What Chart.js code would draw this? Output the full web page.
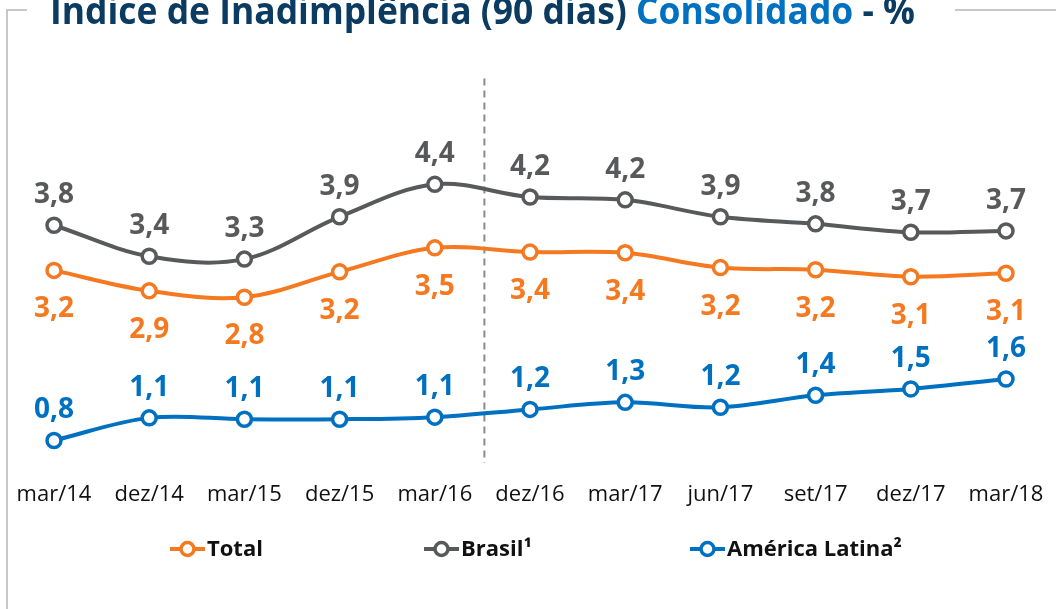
<!DOCTYPE html>
<html lang="pt-BR">
<head>
<meta charset="utf-8">
<title>Índice de Inadimplência (90 dias) Consolidado</title>
<script src="https://cdn.jsdelivr.net/npm/chart.js@4.4.1/dist/chart.umd.min.js"></script>
<style>
    html, body { margin: 0; padding: 0; background: #ffffff; }
    #grafico { display: block; }
</style>
</head>
<body>
<canvas id="grafico" width="1056" height="609"></canvas>
<script>
const categorias = ["mar/14", "dez/14", "mar/15", "dez/15", "mar/16", "dez/16", "mar/17", "jun/17", "set/17", "dez/17", "mar/18"];
const total = [3.18, 2.89, 2.80, 3.16, 3.50, 3.44, 3.43, 3.22, 3.19, 3.09, 3.14];
const brasil = [3.82, 3.38, 3.34, 3.94, 4.40, 4.22, 4.18, 3.94, 3.84, 3.72, 3.74];
const americaLatina = [0.77, 1.09, 1.07, 1.07, 1.10, 1.21, 1.31, 1.24, 1.41, 1.50, 1.64];
const nomesSeries = ["Total", "Brasil¹", "América Latina²"];

const LARANJA = "#f47920", CINZA = "#58595b", AZUL = "#0070c0", MARINHO = "#0b3b60";
const FONTE = "'Open Sans', 'Noto Sans', sans-serif";

function formatar(v) {
    return v.toFixed(1).replace(".", ",");
}

function serie(label, data, cor, posicao) {
    return {
        label: label,
        data: data,
        borderColor: cor,
        backgroundColor: "#ffffff",
        borderWidth: 4,
        pointRadius: 7,
        pointHoverRadius: 7,
        pointBorderWidth: 3.5,
        pointBackgroundColor: "#ffffff",
        pointBorderColor: cor,
        tension: 0.35,
        clip: false,
        posicaoRotulo: posicao
    };
}

// moldura, titulo, linha tracejada, rotulos e legenda
const decoracao = {
    id: "decoracao",
    beforeDraw(chart) {
        const ctx = chart.ctx;
        ctx.save();
        ctx.strokeStyle = "#c8c8c8";
        ctx.lineWidth = 2;
        ctx.beginPath();
        ctx.moveTo(7, 609);
        ctx.lineTo(7, 10);
        ctx.lineTo(27, 10);
        ctx.moveTo(955, 10);
        ctx.lineTo(1056, 10);
        ctx.stroke();

        // titulo (cortado no topo como na imagem)
        const partes = [
            ["Índice de Inadimplência (90 dias) ", MARINHO],
            ["Consolidado", AZUL],
            [" - %", MARINHO]
        ];
        ctx.font = "bold 38px " + FONTE;
        let largura = 0;
        partes.forEach(p => largura += ctx.measureText(p[0]).width);
        const escala = 865 / largura;
        ctx.translate(50, 24);
        ctx.scale(escala, 1);
        ctx.textBaseline = "alphabetic";
        let x = 0;
        partes.forEach(p => {
            ctx.fillStyle = p[1];
            ctx.fillText(p[0], x, 0);
            x += ctx.measureText(p[0]).width;
        });
        ctx.restore();

        // separador tracejado entre mar/16 e dez/16
        const xs = chart.scales.x, ys = chart.scales.y;
        const xm = (xs.getPixelForValue(4) + xs.getPixelForValue(5)) / 2 + 2;
        ctx.save();
        ctx.strokeStyle = "#8c8c8c";
        ctx.lineWidth = 2;
        ctx.setLineDash([7, 5]);
        ctx.beginPath();
        ctx.moveTo(xm, ys.getPixelForValue(5.9));
        ctx.lineTo(xm, ys.getPixelForValue(0.45));
        ctx.stroke();
        ctx.restore();
    },
    afterDatasetsDraw(chart) {
        const ctx = chart.ctx;
        ctx.save();
        ctx.font = "bold 28px " + FONTE;
        ctx.textAlign = "center";
        ctx.textBaseline = "alphabetic";
        chart.data.datasets.forEach((ds, i) => {
            const meta = chart.getDatasetMeta(i);
            ctx.fillStyle = ds.borderColor;
            meta.data.forEach((pt, j) => {
                const dy = ds.posicaoRotulo === "abaixo" ? 47 : -22;
                ctx.fillText(formatar(ds.data[j]), pt.x, pt.y + dy);
            });
        });
        ctx.restore();

        // legenda
        const ordem = [0, 1, 2];
        const inicio = [170, 424, 690];
        ctx.save();
        ctx.font = "bold 22px " + FONTE;
        ctx.textBaseline = "middle";
        ordem.forEach((i, k) => {
            const ds = chart.data.datasets[i];
            const x0 = inicio[k], y0 = 549;
            ctx.strokeStyle = ds.borderColor;
            ctx.lineWidth = 4;
            ctx.beginPath();
            ctx.moveTo(x0, y0);
            ctx.lineTo(x0 + 35, y0);
            ctx.stroke();
            ctx.beginPath();
            ctx.arc(x0 + 17.5, y0, 6.5, 0, Math.PI * 2);
            ctx.fillStyle = "#ffffff";
            ctx.fill();
            ctx.lineWidth = 3.5;
            ctx.stroke();
            ctx.fillStyle = "#111111";
            ctx.fillText(ds.label, x0 + 37, y0 + 1);
        });
        ctx.restore();
    }
};

new Chart(document.getElementById("grafico"), {
    type: "line",
    data: {
        labels: categorias,
        datasets: [
            serie(nomesSeries[0], total, LARANJA, "abaixo"),
            serie(nomesSeries[1], brasil, CINZA, "acima"),
            serie(nomesSeries[2], americaLatina, AZUL, "acima")
        ]
    },
    options: {
        responsive: false,
        animation: false,
        layout: { padding: { left: 54, right: 50, top: 142, bottom: 93 } },
        plugins: {
            legend: { display: false },
            tooltip: { enabled: false }
        },
        scales: {
            x: {
                offset: false,
                grid: { display: false, drawTicks: false },
                border: { display: false },
                ticks: {
                    padding: 8,
                    color: "#111111",
                    font: { family: FONTE, size: 22 },
                    maxRotation: 0,
                    autoSkip: false
                }
            },
            y: {
                display: false,
                min: 0.3,
                max: 5
            }
        }
    },
    plugins: [decoracao]
});
</script>
</body>
</html>
